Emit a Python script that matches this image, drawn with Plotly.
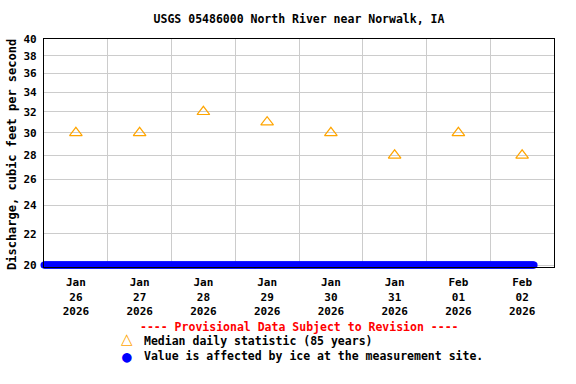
import math
import pandas as pd
import plotly.graph_objects as go

# ---- data ----
median_dates = ["2026-01-26 12:00", "2026-01-27 12:00", "2026-01-28 12:00", "2026-01-29 12:00",
                "2026-01-30 12:00", "2026-01-31 12:00", "2026-02-01 12:00", "2026-02-02 12:00"]
median_values = [30, 30, 32, 31, 30, 28, 30, 28]

tick_dates = median_dates
tick_labels = ["Jan<br>26<br>2026", "Jan<br>27<br>2026", "Jan<br>28<br>2026", "Jan<br>29<br>2026",
               "Jan<br>30<br>2026", "Jan<br>31<br>2026", "Feb<br>01<br>2026", "Feb<br>02<br>2026"]

y_ticks = [20, 22, 24, 26, 28, 30, 32, 34, 36, 38, 40]

# ice-affected 15-minute values (plotted at the bottom of the graph)
ice_times = pd.date_range("2026-01-26 00:00", "2026-02-02 16:30", freq="15min")
ice_floor = 20
ice_values = [ice_floor] * len(ice_times)

FONT = "DejaVu Sans Mono"

fig = go.Figure()
fig.add_trace(go.Scatter(x=ice_times, y=ice_values, mode="markers",
                         marker=dict(color="#0000FF", size=7, line=dict(width=0)),
                         cliponaxis=False, showlegend=False, hoverinfo="skip"))
fig.add_trace(go.Scatter(x=median_dates, y=median_values, mode="markers",
                         marker=dict(symbol="triangle-up-open", color="#FFA500", size=11,
                                     line=dict(width=1.2, color="#FFA500")),
                         showlegend=False))

fig.update_layout(
    width=576, height=384,
    margin=dict(l=44, r=22, t=39, b=117),
    paper_bgcolor="white", plot_bgcolor="white",
    font=dict(family=FONT, size=11.5, color="black", weight="bold"),
    title=dict(text="USGS 05486000 North River near Norwalk, IA",
               font=dict(family=FONT, size=11.5, color="black", weight="bold"),
               x=0.5, xref="paper", xanchor="center", y=1 - 19 / 384, yanchor="middle"),
    showlegend=False,
)

fig.update_xaxes(
    type="date", range=["2026-01-26 00:00", "2026-02-03 00:00"],
    tickmode="array", tickvals=tick_dates, ticktext=tick_labels,
    showgrid=False, ticks="", ticklabelstandoff=5,
    tickfont=dict(family=FONT, size=11, weight="bold"),
    showline=True, linecolor="black", linewidth=1.3, mirror=True,
    minor=dict(showgrid=True, gridcolor="#CCCCCC", gridwidth=1,
               dtick=86400000, tick0="2026-01-26 00:00", ticks=""),
    zeroline=False,
)
fig.update_yaxes(
    type="log", range=[math.log10(19.88), math.log10(40)],
    tickmode="array", tickvals=y_ticks, ticktext=[str(v) for v in y_ticks],
    showgrid=True, gridcolor="#CCCCCC", gridwidth=1, ticks="",
    ticklabelstandoff=4,
    tickfont=dict(family=FONT, size=11, weight="bold"),
    showline=True, linecolor="black", linewidth=1.3, mirror=True, zeroline=False,
)

def px_x(x):
    return (x - 44) / 510

def px_y(y):
    return (267 - y) / 228

fig.add_annotation(text="Discharge, cubic feet per second", textangle=-90,
                   xref="paper", yref="paper", x=px_x(12), y=px_y(155),
                   xanchor="center", yanchor="middle", showarrow=False,
                   font=dict(family=FONT, size=12, weight="bold", color="black"))
fig.add_annotation(text="---- Provisional Data Subject to Revision ----",
                   xref="paper", yref="paper", x=px_x(299), y=px_y(327),
                   xanchor="center", yanchor="middle", showarrow=False,
                   font=dict(family=FONT, size=11.5, weight="bold", color="#FF0000"))
fig.add_annotation(text="△", xref="paper", yref="paper", x=px_x(127), y=px_y(339),
                   xanchor="center", yanchor="middle", showarrow=False,
                   font=dict(family="DejaVu Sans", size=15, color="#FFA500"))
fig.add_annotation(text="Median daily statistic (85 years)",
                   xref="paper", yref="paper", x=px_x(142), y=px_y(341),
                   xanchor="left", yanchor="middle", showarrow=False,
                   font=dict(family=FONT, size=11.5, weight="bold", color="black"))
fig.add_annotation(text="●", xref="paper", yref="paper", x=px_x(127), y=px_y(356),
                   xanchor="center", yanchor="middle", showarrow=False,
                   font=dict(family=FONT, size=16, color="#0000FF"))
fig.add_annotation(text="Value is affected by ice at the measurement site.",
                   xref="paper", yref="paper", x=px_x(142), y=px_y(356),
                   xanchor="left", yanchor="middle", showarrow=False,
                   font=dict(family=FONT, size=11.5, weight="bold", color="black"))

fig.write_html("out.html", config={"displayModeBar": False},
               post_script="document.body.style.margin='0';")
